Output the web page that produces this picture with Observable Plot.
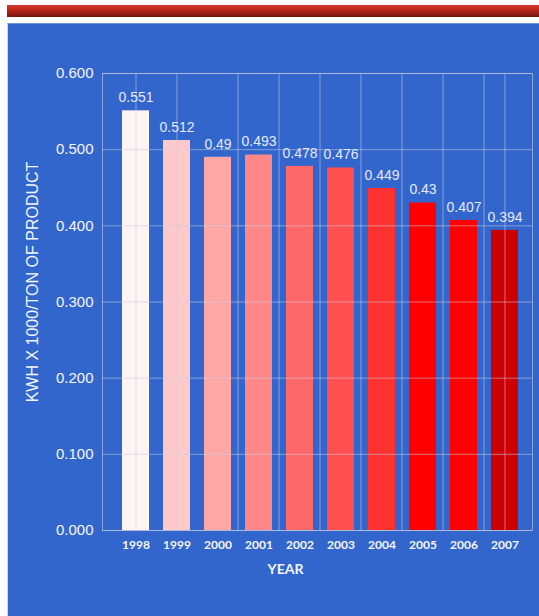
<!DOCTYPE html>
<html>
<head>
<meta charset="utf-8">
<script src="https://cdn.jsdelivr.net/npm/d3@7"></script>
<script src="https://cdn.jsdelivr.net/npm/@observablehq/plot@0.6"></script>
<style>
  html, body { margin: 0; padding: 0; background: #ffffff; }
  #page { position: relative; width: 539px; height: 616px; overflow: hidden; background: #ffffff; }
  #redbar { position: absolute; left: 7px; top: 5px; width: 532px; height: 12px;
    background: linear-gradient(to bottom, #d2392a 0%, #b8241a 45%, #8c1a13 80%, #6e140f 100%); }
  #panel { position: absolute; left: 7px; top: 23px; width: 532px; height: 593px; background: #3366cc;
    box-sizing: border-box; border-top: 1px solid #6f93dc; border-left: 1px solid #c9d6f2; }
  #chart { position: absolute; left: 0; top: 0; }
</style>
</head>
<body>
<div id="page">
  <div id="redbar"></div>
  <div id="panel"></div>
  <div id="chart"></div>
</div>
<script>
// ---- data ----
const years = ["1998", "1999", "2000", "2001", "2002", "2003", "2004", "2005", "2006", "2007"];
const values = [0.551, 0.512, 0.49, 0.493, 0.478, 0.476, 0.449, 0.43, 0.407, 0.394];
const yTicks = [0, 0.1, 0.2, 0.3, 0.4, 0.5, 0.6];
const yTitle = "KWH X 1000/TON OF PRODUCT";
const xTitle = "YEAR";
// vertical grid lines of the original (some through bar centres, some between bars)
const gridCenterYears = ["1998", "1999", "2007"];
const gridEdgeYears = ["2001", "2002", "2003", "2004", "2005", "2006", "2007"];

// ---- styles ----
const barColors = ["#fdf4f3", "#ffc9c9", "#fea7a7", "#ff8787", "#ff6868", "#ff4f4f", "#ff3131", "#ff0000", "#ff0000", "#cc0000"];
const gridColor = "#c9cde0";

const data = years.map((y, i) => ({year: y, value: values[i]}));

const chart = Plot.plot({
  width: 539,
  height: 616,
  marginLeft: 102,
  marginRight: 7,
  marginTop: 73,
  marginBottom: 86,
  style: {background: "transparent", overflow: "visible"},
  x: {domain: years, paddingInner: 0.33, paddingOuter: 0.3, align: 0.6, label: null},
  y: {domain: [0, 0.6], label: null},
  color: {domain: years, range: barColors},
  marks: [
    Plot.barY(data, {x: "year", y: "value", fill: "year"}),
    Plot.gridY(yTicks, {stroke: gridColor, strokeOpacity: 0.55}),
    Plot.ruleX(gridCenterYears, {x: d => d, stroke: gridColor, strokeOpacity: 0.55}),
    Plot.ruleX(gridEdgeYears, {x: d => d, dx: -21, stroke: gridColor, strokeOpacity: 0.55}),
    Plot.frame({stroke: gridColor, strokeOpacity: 0.6}),
    Plot.text(data, {x: "year", y: "value", text: d => String(d.value), dy: -13,
      fill: "#e4e9fb", fontSize: 14, fontFamily: "Liberation Sans, Arial, sans-serif"}),
    Plot.axisY(yTicks, {tickSize: 0, tickPadding: 9, tickFormat: d3.format(".3f"), label: null,
      fill: "#f4f6fd", fontSize: 15, fontFamily: "Liberation Sans, Arial, sans-serif"}),
    Plot.axisX({tickSize: 0, tickPadding: 10, label: null,
      fill: "#f4f6fd", fontSize: 12, fontWeight: 700, fontFamily: "Lato, sans-serif"}),
    Plot.text([xTitle], {frameAnchor: "bottom", textAnchor: "middle", lineAnchor: "middle", dx: -32, dy: 39, text: d => d,
      fill: "#f4f6fd", fontSize: 14, fontWeight: 700, fontFamily: "Lato, sans-serif"}),
    Plot.text([yTitle], {frameAnchor: "left", textAnchor: "middle", lineAnchor: "middle", rotate: -90, dx: -70, dy: -20, text: d => d,
      fill: "#f4f6fd", fontSize: 16, fontFamily: "Liberation Sans, Arial, sans-serif"})
  ]
});
document.getElementById("chart").appendChild(chart);
</script>
</body>
</html>
